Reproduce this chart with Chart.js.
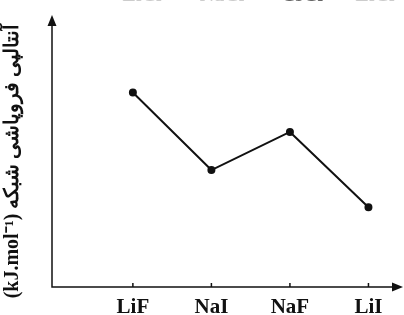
<!DOCTYPE html>
<html>
<head>
<meta charset="utf-8">
<script src="https://cdn.jsdelivr.net/npm/chart.js@4.4.0/dist/chart.umd.min.js"></script>
<style>
  html, body { margin: 0; padding: 0; background: #fff; }
  #wrap { width: 404px; height: 315px; }
</style>
</head>
<body>
<div id="wrap"><canvas id="latticeChart"></canvas></div>
<script>
// Data (no scale printed, relative units 0-100)
const salts = ['LiF', 'NaI', 'NaF', 'LiI'];
const latticeEnthalpy = [71.5, 43.0, 57.0, 29.3];
// trailing no-break spaces push the rotated title a little down
const yTitle = '(kJ.mol⁻¹) آنتالپی فروپاشی شبکه\u00A0\u00A0\u00A0\u00A0';
const topCaption = ['LiCl', 'NaCl', 'CsCl', 'LiCl']; // cut off at the top edge

// Draw the two axes with arrow heads and the small ticks above the x axis
const arrowAxes = {
  id: 'arrowAxes',
  afterDraw(chart) {
    const { ctx, chartArea: a, scales } = chart;
    ctx.save();
    ctx.strokeStyle = '#111';
    ctx.fillStyle = '#111';
    ctx.lineWidth = 1.5;
    ctx.beginPath();
    ctx.moveTo(a.left, a.top + 8);
    ctx.lineTo(a.left, a.bottom);
    ctx.lineTo(a.right - 8, a.bottom);
    salts.forEach((s, i) => {
      const x = scales.x.getPixelForValue(i + 1);
      ctx.moveTo(x, a.bottom);
      ctx.lineTo(x, a.bottom - 4);
    });
    ctx.stroke();

    // arrow heads
    ctx.beginPath();
    ctx.moveTo(a.left, a.top);
    ctx.lineTo(a.left - 4.5, a.top + 11);
    ctx.lineTo(a.left + 4.5, a.top + 11);
    ctx.closePath();
    ctx.fill();
    ctx.beginPath();
    ctx.moveTo(a.right, a.bottom);
    ctx.lineTo(a.right - 11, a.bottom - 4.5);
    ctx.lineTo(a.right - 11, a.bottom + 4.5);
    ctx.closePath();
    ctx.fill();

    // caption of the figure above, only its lower edge shows
    ctx.font = 'bold 20px "Liberation Serif"';
    ctx.textAlign = 'center';
    ctx.textBaseline = 'alphabetic';
    const capX = [142, 222, 302, 375];
    topCaption.forEach((t, i) => {
      ctx.fillStyle = i === 2 ? '#666' : '#ccc';
      ctx.fillText(t, capX[i], 0.5);
    });
    ctx.restore();
  }
};

const ctx = document.getElementById('latticeChart').getContext('2d');
const latticeChart = new Chart(ctx, {
  type: 'line',
  data: {
    datasets: [{
      data: latticeEnthalpy.map((v, i) => ({ x: i + 1, y: v })),
      borderColor: '#111',
      borderWidth: 2,
      pointRadius: 3,
      pointBackgroundColor: '#111',
      pointBorderColor: '#111',
      tension: 0
    }]
  },
  options: {
    responsive: true,
    maintainAspectRatio: false,
    animation: false,
    layout: { autoPadding: false, padding: { top: 15, right: 1, bottom: -13, left: 0 } },
    plugins: {
      legend: { display: false },
      tooltip: { enabled: false }
    },
    scales: {
      x: {
        type: 'linear',
        min: -0.03,
        max: 4.44,
        afterBuildTicks: scale => {
          scale.ticks = salts.map((s, i) => ({ value: i + 1 }));
        },
        grid: { display: false, drawTicks: false },
        border: { display: false },
        ticks: {
          callback: v => salts[v - 1],
          color: '#111',
          padding: 10,
          maxRotation: 0,
          autoSkip: false,
          font: { family: '"Liberation Serif"', size: 21, weight: 'bold', lineHeight: 1 }
        }
      },
      y: {
        min: 0,
        max: 100,
        grid: { display: false, drawTicks: false },
        border: { display: false },
        ticks: { display: false },
        title: {
          display: true,
          text: yTitle,
          color: '#111',
          padding: { top: 1, bottom: 27 },
          font: { family: '"Liberation Serif"', size: 20, weight: 'bold' }
        }
      }
    }
  },
  plugins: [arrowAxes]
});
</script>
</body>
</html>
